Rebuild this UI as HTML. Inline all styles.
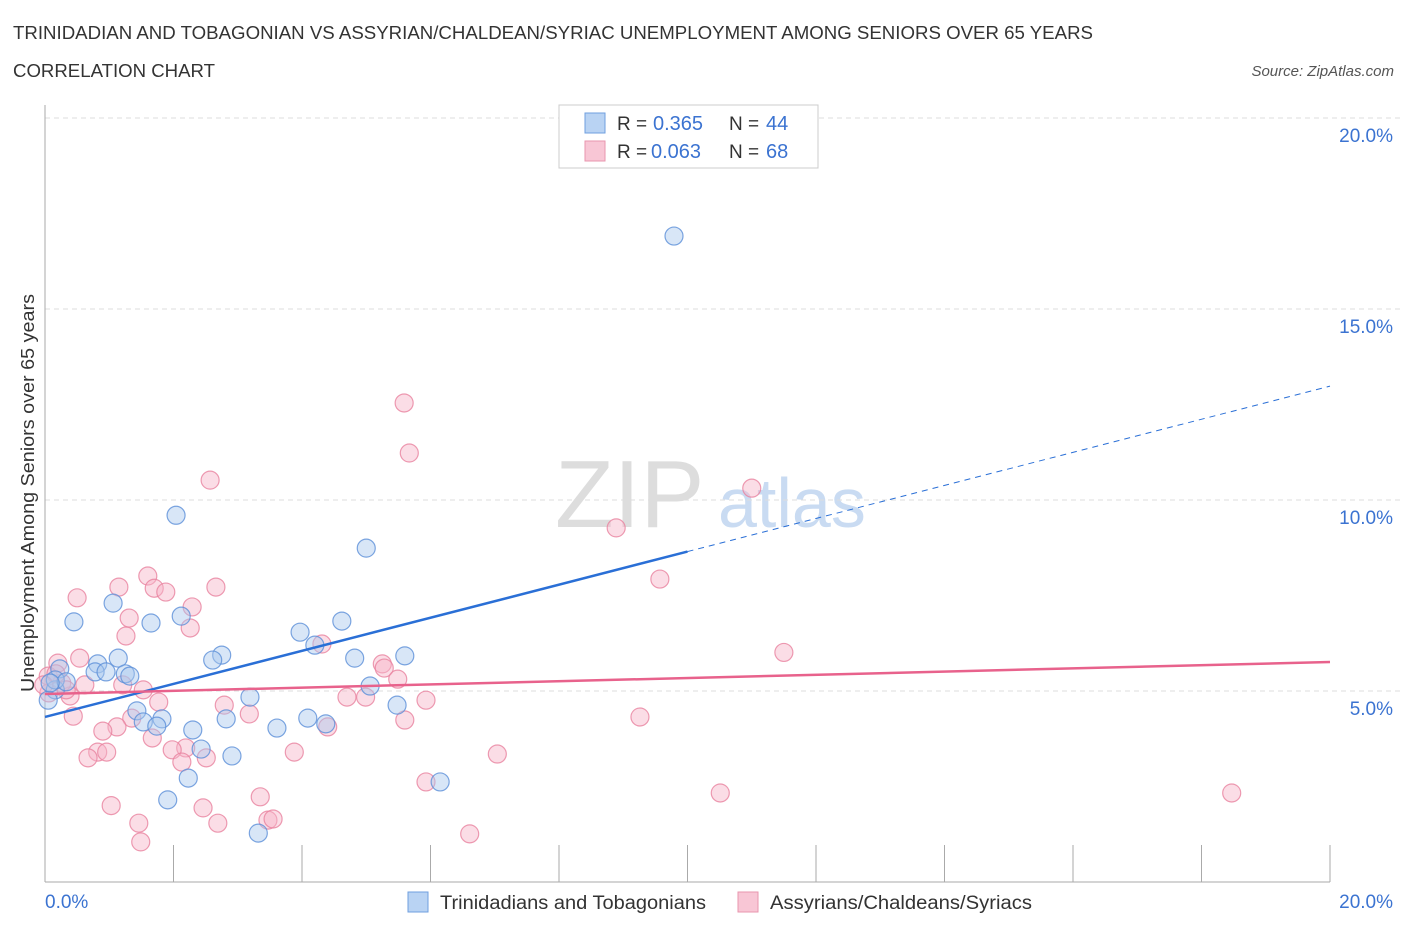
<!DOCTYPE html>
<html><head><meta charset="utf-8"><style>
body{margin:0;background:#fff;font-family:"Liberation Sans",sans-serif;}
svg text{font-family:"Liberation Sans",sans-serif;}
</style></head><body>
<svg id="chart" width="1406" height="930" viewBox="0 0 1406 930" xmlns="http://www.w3.org/2000/svg">
<text x="13" y="39" font-size="18" fill="#333" textLength="1080" lengthAdjust="spacingAndGlyphs">TRINIDADIAN AND TOBAGONIAN VS ASSYRIAN/CHALDEAN/SYRIAC UNEMPLOYMENT AMONG SENIORS OVER 65 YEARS</text>
<text x="13" y="77" font-size="18" fill="#333" textLength="202" lengthAdjust="spacingAndGlyphs">CORRELATION CHART</text>
<text x="1394" y="76" font-size="15" fill="#555" font-style="italic" text-anchor="end">Source: ZipAtlas.com</text>
<text x="555" y="527" font-size="96" fill="#ddd" font-family="Liberation Serif,serif">ZIP</text>
<text x="718" y="527" font-size="70" fill="#c9dbf2">atlas</text>
<g id="grid"></g>
<g id="axes"></g>
<g id="pts"></g>
<g id="lines"></g>
<text transform="translate(34,493) rotate(-90)" font-size="18" fill="#333" text-anchor="middle" textLength="398" lengthAdjust="spacingAndGlyphs">Unemployment Among Seniors over 65 years</text>
<g>
<rect x="559" y="105" width="259" height="63" fill="#fff" stroke="#ccc"/>
<rect x="585" y="113" width="20" height="20" fill="#b9d3f3" stroke="#6f9fdf"/>
<rect x="585" y="141" width="20" height="20" fill="#f8c6d5" stroke="#e896ae"/>
<text x="617" y="130" font-size="19" fill="#333">R =</text>
<text x="653" y="130" font-size="20" fill="#3b73d1">0.365</text>
<text x="729" y="130" font-size="19" fill="#333">N =</text>
<text x="766" y="130" font-size="20" fill="#3b73d1">44</text>
<text x="617" y="158" font-size="19" fill="#333">R =</text>
<text x="651" y="158" font-size="20" fill="#3b73d1">0.063</text>
<text x="729" y="158" font-size="19" fill="#333">N =</text>
<text x="766" y="158" font-size="20" fill="#3b73d1">68</text>
</g>
<g>
<rect x="408" y="892" width="20" height="20" fill="#b9d3f3" stroke="#6f9fdf"/>
<text x="440" y="909" font-size="19" fill="#333" textLength="266" lengthAdjust="spacingAndGlyphs">Trinidadians and Tobagonians</text>
<rect x="738" y="892" width="20" height="20" fill="#f8c6d5" stroke="#e896ae"/>
<text x="770" y="909" font-size="19" fill="#333" textLength="262" lengthAdjust="spacingAndGlyphs">Assyrians/Chaldeans/Syriacs</text>
</g>
</svg>
<script>
const yTicks=[5,10,15,20];
const yTickLabels=["5.0%","10.0%","15.0%","20.0%"];
const xTickLabels=["0.0%","20.0%"];
const blueX=[9.79,2.04,5.0,1.06,0.45,2.12,1.65,4.62,3.97,2.75,2.61,1.14,5.6,4.82,0.82,0.23,1.25,1.32,0.78,0.95,5.06,3.19,4.2,1.43,1.82,1.53,1.74,2.3,2.82,4.09,4.37,3.61,5.48,2.43,2.91,2.23,6.15,1.91,3.32,0.16,0.05,0.16,0.33,0.08];
const blueY=[16.91,9.6,8.74,7.3,6.81,6.96,6.78,6.83,6.54,5.94,5.81,5.86,5.92,5.86,5.71,5.58,5.45,5.39,5.5,5.5,5.13,4.84,6.2,4.48,4.27,4.19,4.08,3.98,4.27,4.29,4.14,4.03,4.63,3.48,3.3,2.72,2.62,2.15,1.28,5.03,4.76,5.29,5.24,5.21];
const pinkX=[5.59,5.67,2.57,11.0,8.89,1.6,9.57,1.15,2.66,1.7,0.5,1.88,2.29,1.31,2.26,1.26,11.5,0.54,0.2,5.25,5.28,4.31,5.49,0.62,1.21,1.53,0.06,0.39,4.7,4.99,5.93,2.79,1.77,3.18,0.44,9.26,5.6,1.35,4.4,1.12,0.9,1.67,2.19,1.98,3.88,7.04,0.82,0.96,0.67,2.51,2.13,5.93,10.51,18.47,3.35,1.03,2.46,1.46,2.69,3.47,3.55,6.61,1.49,0.26,0.05,0.17,-0.02,0.33];
const pinkY=[12.54,11.23,10.52,10.31,9.27,8.01,7.93,7.72,7.72,7.69,7.44,7.59,7.2,6.91,6.65,6.44,6.01,5.86,5.73,5.71,5.6,6.23,5.31,5.16,5.16,5.03,4.95,4.87,4.84,4.84,4.76,4.63,4.71,4.4,4.34,4.32,4.24,4.29,4.06,4.06,3.95,3.77,3.51,3.46,3.4,3.35,3.4,3.4,3.25,3.25,3.14,2.62,2.33,2.33,2.23,2.0,1.94,1.54,1.54,1.62,1.65,1.26,1.05,5.21,5.39,5.45,5.16,5.03];
const blueFit=[4.32,12.98];
const pinkFit=[4.92,5.76];
const NS="http://www.w3.org/2000/svg";
const X0=45,X1=1330,Y0=882,PY=38.2;
const sx=v=>X0+(X1-X0)*v/20;
const sy=v=>Y0-v*PY;
function mk(tag,attrs,parent){const e=document.createElementNS(NS,tag);for(const k in attrs)e.setAttribute(k,attrs[k]);parent.appendChild(e);return e;}
const grid=document.getElementById('grid'),axes=document.getElementById('axes'),pts=document.getElementById('pts'),lines=document.getElementById('lines');
yTicks.forEach((t,i)=>{
 const l=mk('line',{x1:X0,x2:X1+70,y1:sy(t),y2:sy(t),stroke:'#ddd','stroke-dasharray':'5,4'},grid);
 
 
 const tx=mk('text',{x:1393,y:sy(t)+24,'font-size':19,fill:'#3b73d1','text-anchor':'end'},grid);
 tx.textContent=yTickLabels[i];
 
 
});
const ya=mk('line',{x1:X0,x2:X0,y1:105,y2:Y0,stroke:'#aaa'},axes);


const xa=mk('line',{x1:X0,x2:X1,y1:Y0,y2:Y0,stroke:'#aaa'},axes);


for(let i=0;i<=10;i++){
 const t=mk('line',{x1:sx(i*2),x2:sx(i*2),y1:845,y2:Y0,stroke:'#aaa'},axes);
 
 
}
[[0,'start',45],[20,'end',1393]].forEach((d,i)=>{
 const t=mk('text',{x:d[2],y:908,'font-size':19,fill:'#3b73d1','text-anchor':d[1]},axes);
 t.textContent=xTickLabels[i];
 
 
});
function series(xs,ys,fill,stroke,name){
 xs.forEach((x,i)=>{
  const c=mk('circle',{cx:sx(x),cy:sy(ys[i]),r:9,fill:fill,'fill-opacity':0.45,stroke:stroke,'stroke-width':1.2,'stroke-opacity':0.8},pts);
  
  
 });
}
series(pinkX,pinkY,'#f7b3c7','#e8829f','assyrian');
series(blueX,blueY,'#a9c8ee','#5b8fd8','trinidadian');
const bm=10;
const by=v=>blueFit[0]+(blueFit[1]-blueFit[0])*v/20;
const b1=mk('line',{x1:sx(0),y1:sy(by(0)),x2:sx(bm),y2:sy(by(bm)),stroke:'#2a6fd6','stroke-width':2.5},lines);


const b2=mk('line',{x1:sx(bm),y1:sy(by(bm)),x2:sx(20),y2:sy(by(20)),stroke:'#2a6fd6','stroke-width':1,'stroke-dasharray':'6,5'},lines);


const p1=mk('line',{x1:sx(0),y1:sy(pinkFit[0]),x2:sx(20),y2:sy(pinkFit[1]),stroke:'#e8628c','stroke-width':2.5},lines);


</script>
</body></html>
